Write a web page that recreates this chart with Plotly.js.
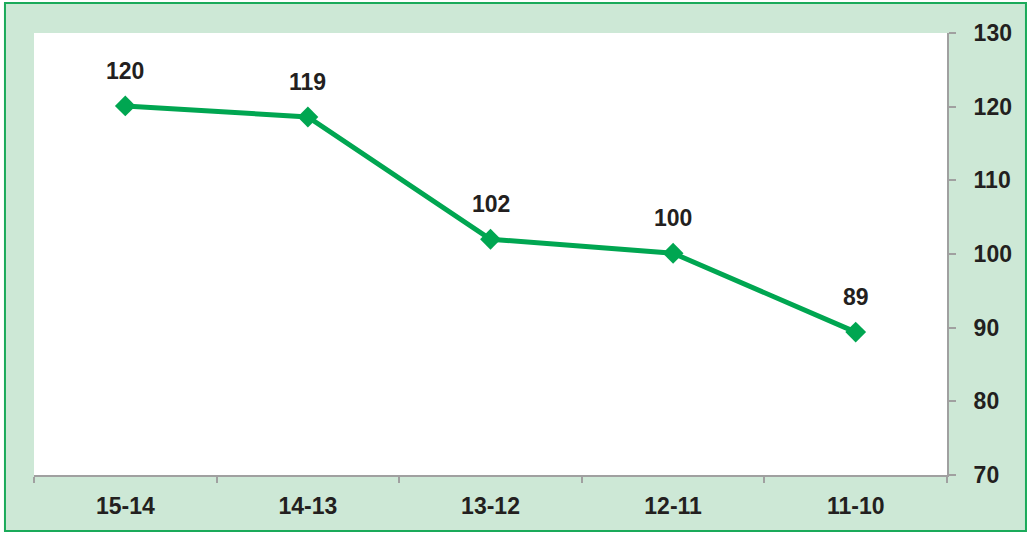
<!DOCTYPE html>
<html><head><meta charset="utf-8">
<script src="https://cdn.plot.ly/plotly-3.0.1.min.js"></script>
<style>html,body{margin:0;padding:0;background:#fff;}#chart{width:1031px;height:533px;}</style>
</head><body><div id="chart"></div>
<script>
const categories = ['15-14', '14-13', '13-12', '12-11', '11-10'];
const values = [120.1, 118.6, 102.0, 100.1, 89.4];
const labels = ['120', '119', '102', '100', '89'];
const yTicks = [70, 80, 90, 100, 110, 120, 130];

const green = '#00a651';
const txt = '#231f20';
const fontFam = 'Liberation Sans, Arial, sans-serif';

const trace = {
  x: categories, y: values, type: 'scatter', mode: 'lines+markers',
  line: {color: green, width: 5},
  marker: {symbol: 'diamond', size: 16, color: green},
  hoverinfo: 'skip'
};

const annotations = categories.map((c, i) => ({
  x: c, y: values[i], xref: 'x', yref: 'y', text: '<b>' + labels[i] + '</b>',
  showarrow: false, yshift: 35, font: {family: fontFam, size: 23, color: txt}
}));

const layout = {
  width: 1031, height: 533,
  margin: {l: 34, r: 84, t: 33, b: 58},
  paper_bgcolor: '#ffffff', plot_bgcolor: 'rgba(0,0,0,0)',
  showlegend: false,
  font: {family: fontFam, size: 23, color: txt},
  xaxis: {
    type: 'category', range: [-0.5, 4.5], tickson: 'boundaries',
    showline: true, linecolor: '#a0a0a0', linewidth: 2,
    ticks: 'outside', ticklen: 6, tickwidth: 2, tickcolor: '#a0a0a0',
    showgrid: false, zeroline: false, ticklabelstandoff: 9,
    tickfont: {family: fontFam, size: 23, color: txt, weight: 'bold'}
  },
  yaxis: {
    side: 'right', range: [70, 130], tickvals: yTicks,
    showline: true, linecolor: '#a0a0a0', linewidth: 2,
    ticks: 'outside', ticklen: 7, tickwidth: 2, tickcolor: '#a0a0a0',
    showgrid: false, zeroline: false, ticklabelstandoff: 13,
    tickfont: {family: fontFam, size: 23, color: txt, weight: 'bold'}
  },
  shapes: [{
    type: 'rect', xref: 'paper', yref: 'paper', layer: 'below',
    x0: -0.0318, x1: 1.0865, y0: -0.1267, y1: 1.0679,
    fillcolor: '#cde8d6', line: {color: '#1aaa5a', width: 2}
  }, {
    type: 'rect', xref: 'paper', yref: 'paper', layer: 'below',
    x0: 0, x1: 1, y0: 0, y1: 1,
    fillcolor: '#ffffff', line: {width: 0}
  }],
  annotations: annotations
};

Plotly.newPlot('chart', [trace], layout, {displayModeBar: false, staticPlot: true});
</script>
</body></html>
